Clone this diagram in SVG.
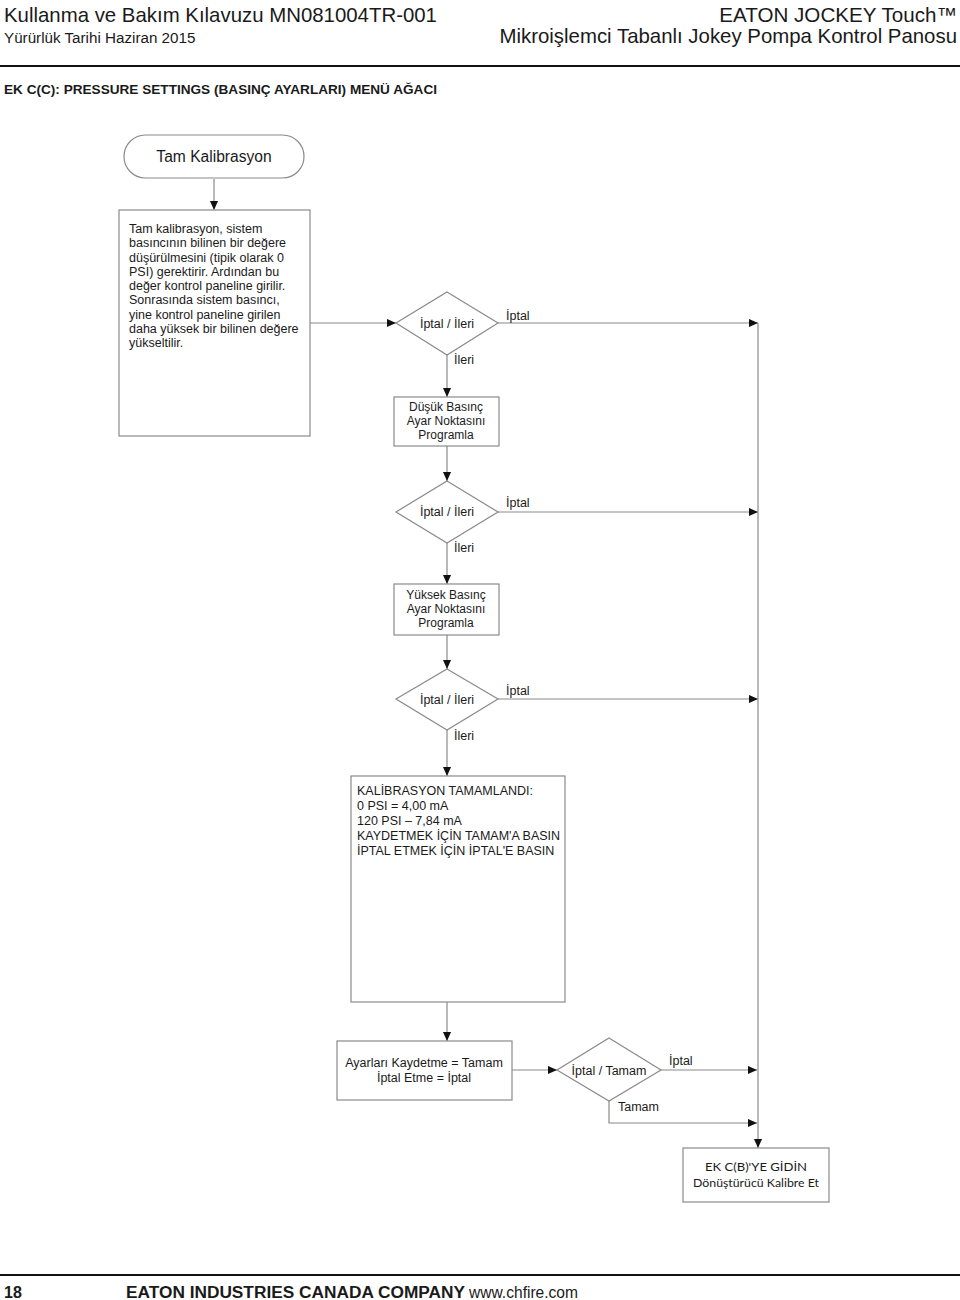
<svg xmlns="http://www.w3.org/2000/svg" width="960" height="1300" viewBox="0 0 960 1300">
<defs>
<style>
text{font-family:"Liberation Sans",Arial,sans-serif;fill:#1a1a1a}
.box{fill:#fff;stroke:#8a8a8a;stroke-width:1.2}
.c{fill:none;stroke:#8a8a8a;stroke-width:1.2}
.n{font-size:12.5px}
.m{text-anchor:middle}
.lbl{font-size:12.5px}
.cal{font-family:Lato,"Open Sans",sans-serif;font-size:12.3px}
</style>
<marker id="ah" viewBox="0 0 10 10" refX="10" refY="5" markerWidth="9" markerHeight="9" markerUnits="userSpaceOnUse" orient="auto"><path d="M0,0.5 L10,5 L0,9.5 z" fill="#111"/></marker>
</defs>
<rect width="960" height="1300" fill="#fff"/>
<g id="header">
<text x="4" y="22" font-size="20.4">Kullanma ve Bakım Kılavuzu MN081004TR-001</text>
<text x="4" y="43" font-size="15.2">Yürürlük Tarihi Haziran 2015</text>
<text x="957" y="22" font-size="20.6" text-anchor="end">EATON JOCKEY Touch™</text>
<text x="957" y="43" font-size="20.4" text-anchor="end">Mikroişlemci Tabanlı Jokey Pompa Kontrol Panosu</text>
<line x1="0" y1="66" x2="960" y2="66" stroke="#111" stroke-width="2"/>
<text x="4" y="94" font-size="13.6" font-weight="bold">EK C(C): PRESSURE SETTINGS (BASINÇ AYARLARI) MENÜ AĞACI</text>
</g>
<g id="connectors">
<line class="c" x1="214" y1="179" x2="214" y2="210" marker-end="url(#ah)"/>
<line class="c" x1="310" y1="323" x2="396" y2="323" marker-end="url(#ah)"/>
<line class="c" x1="498" y1="323" x2="758" y2="323" marker-end="url(#ah)"/>
<line class="c" x1="447" y1="355" x2="447" y2="397" marker-end="url(#ah)"/>
<line class="c" x1="447" y1="446" x2="447" y2="481" marker-end="url(#ah)"/>
<line class="c" x1="498" y1="512" x2="758" y2="512" marker-end="url(#ah)"/>
<line class="c" x1="447" y1="543" x2="447" y2="584" marker-end="url(#ah)"/>
<line class="c" x1="447" y1="635" x2="447" y2="669" marker-end="url(#ah)"/>
<line class="c" x1="498" y1="699" x2="758" y2="699" marker-end="url(#ah)"/>
<line class="c" x1="447" y1="730" x2="447" y2="776" marker-end="url(#ah)"/>
<line class="c" x1="447" y1="1002" x2="447" y2="1041" marker-end="url(#ah)"/>
<line class="c" x1="512" y1="1070" x2="557" y2="1070" marker-end="url(#ah)"/>
<line class="c" x1="661" y1="1070" x2="757" y2="1070" marker-end="url(#ah)"/>
<polyline class="c" points="609,1101 609,1123 757,1123" marker-end="url(#ah)"/>
<line class="c" x1="758" y1="323" x2="758" y2="1148" marker-end="url(#ah)"/>
<text class="lbl" x="506" y="320">İptal</text>
<text class="lbl" x="454" y="364">İleri</text>
<text class="lbl" x="506" y="507">İptal</text>
<text class="lbl" x="454" y="552">İleri</text>
<text class="lbl" x="506" y="695">İptal</text>
<text class="lbl" x="454" y="740">İleri</text>
<text class="lbl" x="669" y="1065">İptal</text>
<text class="lbl" x="618" y="1111">Tamam</text>
</g>
<g id="start">
<rect class="box" x="124" y="135" width="180" height="43" rx="21.5"/>
<text class="m" x="214" y="162" font-size="15.6">Tam Kalibrasyon</text>
</g>
<g id="info">
<rect class="box" x="119" y="210" width="191" height="226"/>
<text class="n" x="129" y="233">Tam kalibrasyon, sistem</text>
<text class="n" x="129" y="247">basıncının bilinen bir değere</text>
<text class="n" x="129" y="262">düşürülmesini (tipik olarak 0</text>
<text class="n" x="129" y="276">PSI) gerektirir. Ardından bu</text>
<text class="n" x="129" y="290">değer kontrol paneline girilir.</text>
<text class="n" x="129" y="304">Sonrasında sistem basıncı,</text>
<text class="n" x="129" y="319">yine kontrol paneline girilen</text>
<text class="n" x="129" y="333">daha yüksek bir bilinen değere</text>
<text class="n" x="129" y="347">yükseltilir.</text>
</g>
<g id="dec1">
<polygon class="box" points="447,292 498,323 447,355 396,323"/>
<text class="n m" x="447" y="328">İptal / İleri</text>
</g>
<g id="low">
<rect class="box" x="394" y="397" width="105" height="49"/>
<text class="m" x="446" y="411" font-size="12">Düşük Basınç</text>
<text class="m" x="446" y="425" font-size="12">Ayar Noktasını</text>
<text class="m" x="446" y="439" font-size="12">Programla</text>
</g>
<g id="dec2">
<polygon class="box" points="447,481 498,512 447,543 396,512"/>
<text class="n m" x="447" y="516">İptal / İleri</text>
</g>
<g id="high">
<rect class="box" x="394" y="584" width="105" height="51"/>
<text class="m" x="446" y="599" font-size="12">Yüksek Basınç</text>
<text class="m" x="446" y="613" font-size="12">Ayar Noktasını</text>
<text class="m" x="446" y="627" font-size="12">Programla</text>
</g>
<g id="dec3">
<polygon class="box" points="447,669 498,699 447,730 396,699"/>
<text class="n m" x="447" y="704">İptal / İleri</text>
</g>
<g id="done">
<rect class="box" x="351" y="776" width="214" height="226"/>
<text class="n" x="357" y="795">KALİBRASYON TAMAMLANDI:</text>
<text class="n" x="357" y="810">0 PSI = 4,00 mA</text>
<text class="n" x="357" y="825">120 PSI – 7,84 mA</text>
<text class="n" x="357" y="840">KAYDETMEK İÇİN TAMAM'A BASIN</text>
<text class="n" x="357" y="855">İPTAL ETMEK İÇİN İPTAL'E BASIN</text>
</g>
<g id="save">
<rect class="box" x="337" y="1041" width="175" height="59"/>
<text class="n m" x="424" y="1067">Ayarları Kaydetme = Tamam</text>
<text class="n m" x="424" y="1082">İptal Etme = İptal</text>
</g>
<g id="dec4">
<polygon class="box" points="609,1038 661,1070 609,1101 557,1070"/>
<text class="n m" x="609" y="1075">İptal / Tamam</text>
</g>
<g id="goto">
<rect class="box" x="683" y="1148" width="146" height="54"/>
<text class="m cal" x="756" y="1171" textLength="102" lengthAdjust="spacingAndGlyphs">EK C(B)'YE GİDİN</text>
<text class="m cal" x="756" y="1187">Dönüştürücü Kalibre Et</text>
</g>
<g id="footer">
<line x1="0" y1="1275" x2="960" y2="1275" stroke="#111" stroke-width="2"/>
<text x="4" y="1298" font-size="16" font-weight="bold" style="font-family:'Liberation Sans Narrow','Liberation Sans',sans-serif">18</text>
<text x="126" y="1298" font-size="16" font-weight="bold" textLength="339" lengthAdjust="spacingAndGlyphs" style="font-family:'Liberation Sans Narrow','Liberation Sans',sans-serif">EATON INDUSTRIES CANADA COMPANY</text>
<text x="469" y="1298" font-size="16" textLength="109" lengthAdjust="spacingAndGlyphs" style="font-family:'Liberation Sans Narrow','Liberation Sans',sans-serif">www.chfire.com</text>
</g>
</svg>
